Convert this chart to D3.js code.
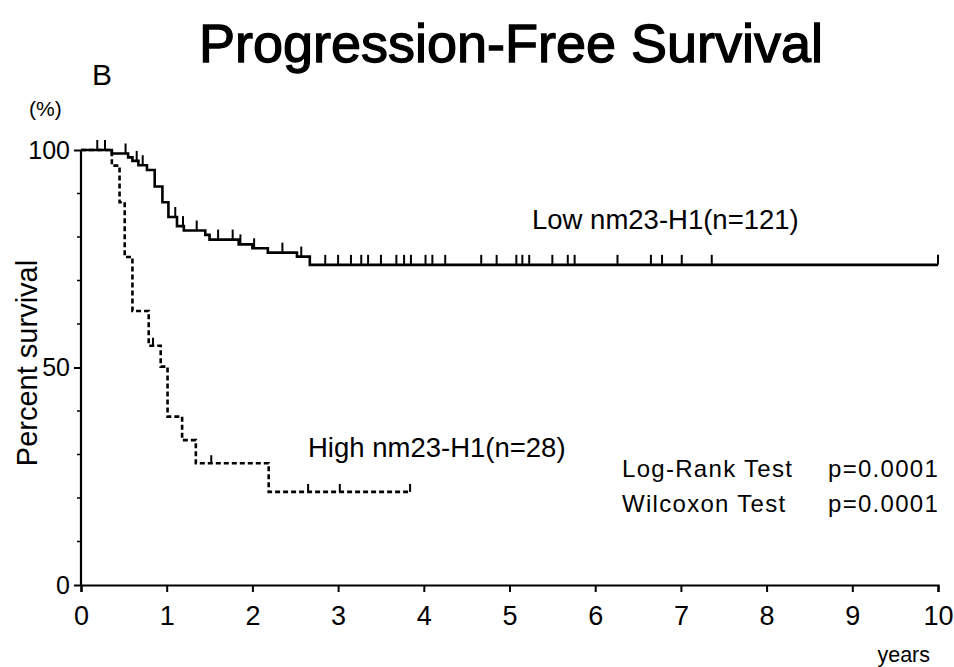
<!DOCTYPE html>
<html>
<head>
<meta charset="utf-8">
<script src="https://cdn.jsdelivr.net/npm/d3@7"></script>
<style>
  html, body { margin: 0; padding: 0; background: #fff; }
  svg text { font-family: "Liberation Sans", Arial, Helvetica, sans-serif; fill: #000; }
</style>
</head>
<body>
<svg id="chart" width="954" height="667"></svg>
<script>
const WIDTH = 954;
const HEIGHT = 667;

// Low nm23-H1 (n=121): step times (years) and survival (%)
const lowTimes = [0, 0.36, 0.55, 0.60, 0.67, 0.77, 0.86, 0.95, 1.02, 1.12, 1.20, 1.45, 1.50, 1.84, 2.00, 2.18, 2.52, 2.67];
const lowSurv  = [100, 99.2, 98.3, 97.5, 96.5, 95.4, 91.6, 88.0, 84.6, 82.5, 81.5, 80.5, 79.4, 78.3, 77.4, 76.4, 75.5, 73.6];
const lowEnd = 10;
const lowCensor = [0.19, 0.28, 0.52, 0.65, 0.72, 1.10, 1.19, 1.35, 1.60, 1.77, 1.86, 2.02, 2.35, 2.57,
  2.85, 3.0, 3.15, 3.27, 3.35, 3.5, 3.68, 3.77, 3.85, 4.02, 4.1, 4.25, 4.67, 4.85, 5.08, 5.15, 5.23,
  5.5, 5.68, 5.76, 6.26, 6.65, 6.78, 7.01, 7.36, 10];

// High nm23-H1 (n=28)
const highTimes = [0, 0.36, 0.45, 0.51, 0.60, 0.79, 0.93, 1.01, 1.18, 1.34, 2.19];
const highSurv  = [100, 96.4, 88.0, 75.4, 63.0, 55.0, 50.2, 38.7, 33.3, 28.0, 21.4];
const highEnd = 3.84;
const highCensor = [0.84, 1.52, 2.65, 3.02, 3.84];

const xTicks = [0, 1, 2, 3, 4, 5, 6, 7, 8, 9, 10];
const yMajor = [0, 50, 100];
const yMinor = [10, 20, 30, 40, 60, 70, 80, 90];

const x = d3.scaleLinear().domain([0, 10]).range([81, 938]);
const y = d3.scaleLinear().domain([0, 100]).range([585, 150]);

const svg = d3.select("#chart");

// survival value at time t for a step curve
function survAt(times, surv, t) {
  let v = surv[0];
  for (let i = 0; i < times.length; i++) if (times[i] <= t) v = surv[i];
  return v;
}

function stepPoints(times, surv, end) {
  const pts = times.map((t, i) => [t, surv[i]]);
  pts.push([end, surv[surv.length - 1]]);
  return pts;
}

const line = d3.line()
  .x(d => x(d[0]))
  .y(d => y(d[1]))
  .curve(d3.curveStepAfter);

const tickFont = "'Liberation Sans Narrow', 'Liberation Sans', Arial, sans-serif";

// axes
const xAxis = d3.axisBottom(x).tickValues(xTicks).tickSize(7).tickPadding(14).tickFormat(d3.format("d"));
const gx = svg.append("g").attr("transform", `translate(0,${y(0)})`).call(xAxis);
gx.select(".domain").attr("stroke-width", 2.2);
gx.selectAll(".tick line").attr("stroke-width", 2);
gx.selectAll(".tick text")
  .style("font-family", tickFont)
  .style("font-size", "27px");

const yAxis = d3.axisLeft(y).tickValues(yMajor).tickSize(7).tickPadding(4);
const gy = svg.append("g").attr("transform", `translate(${x(0)},0)`).call(yAxis);
gy.select(".domain").attr("stroke-width", 2.2).attr("d", `M0,${y(100)}V${y(0)}`);
gy.selectAll(".tick line").attr("stroke-width", 2);
gy.selectAll(".tick text")
  .style("font-family", tickFont)
  .style("font-size", "25px");

gy.selectAll(".minor")
  .data(yMinor)
  .enter()
  .append("line")
  .attr("class", "minor")
  .attr("x1", -4).attr("x2", 0)
  .attr("y1", d => y(d)).attr("y2", d => y(d))
  .attr("stroke", "#000").attr("stroke-width", 1.5);

// curves
svg.append("path")
  .datum(stepPoints(lowTimes, lowSurv, lowEnd))
  .attr("d", line)
  .attr("fill", "none")
  .attr("stroke", "#000")
  .attr("stroke-width", 2.6);

svg.append("path")
  .datum(stepPoints(highTimes, highSurv, highEnd))
  .attr("d", line)
  .attr("fill", "none")
  .attr("stroke", "#000")
  .attr("stroke-width", 2.6)
  .attr("stroke-dasharray", "5,3");

// censor marks
svg.selectAll(".cens-low")
  .data(lowCensor)
  .enter()
  .append("line")
  .attr("class", "cens-low")
  .attr("x1", d => x(d)).attr("x2", d => x(d))
  .attr("y1", d => y(survAt(lowTimes, lowSurv, d)))
  .attr("y2", d => y(survAt(lowTimes, lowSurv, d)) - 10)
  .attr("stroke", "#000").attr("stroke-width", 2);

svg.selectAll(".cens-high")
  .data(highCensor)
  .enter()
  .append("line")
  .attr("class", "cens-high")
  .attr("x1", d => x(d)).attr("x2", d => x(d))
  .attr("y1", d => y(survAt(highTimes, highSurv, d)))
  .attr("y2", d => y(survAt(highTimes, highSurv, d)) - 8)
  .attr("stroke", "#000").attr("stroke-width", 2);

// texts
svg.append("text")
  .attr("x", 511).attr("y", 62)
  .attr("text-anchor", "middle")
  .style("font-size", "54px")
  .style("stroke", "#000")
  .style("stroke-width", "1.3px")
  .text("Progression-Free Survival");

svg.append("text").attr("x", 92).attr("y", 85).style("font-size", "30px").text("B");
svg.append("text").attr("x", 29).attr("y", 116).style("font-size", "21px").text("(%)");

svg.append("text")
  .attr("transform", `translate(37,363) rotate(-90)`)
  .attr("text-anchor", "middle")
  .style("font-size", "29px")
  .text("Percent survival");

svg.append("text").attr("x", 930).attr("y", 662).attr("text-anchor", "end")
  .style("font-size", "21.5px").text("years");

svg.append("text").attr("x", 532).attr("y", 229).style("font-size", "27.5px").text("Low nm23-H1(n=121)");
svg.append("text").attr("x", 308).attr("y", 457).style("font-size", "27.5px").text("High nm23-H1(n=28)");

const statStyle = sel => sel.style("font-size", "24px").style("letter-spacing", "1.3px");
svg.append("text").attr("x", 622).attr("y", 477).call(statStyle).text("Log-Rank Test");
svg.append("text").attr("x", 828).attr("y", 477).call(statStyle).text("p=0.0001");
svg.append("text").attr("x", 622).attr("y", 512).call(statStyle).text("Wilcoxon Test");
svg.append("text").attr("x", 828).attr("y", 512).call(statStyle).text("p=0.0001");
</script>
</body>
</html>
